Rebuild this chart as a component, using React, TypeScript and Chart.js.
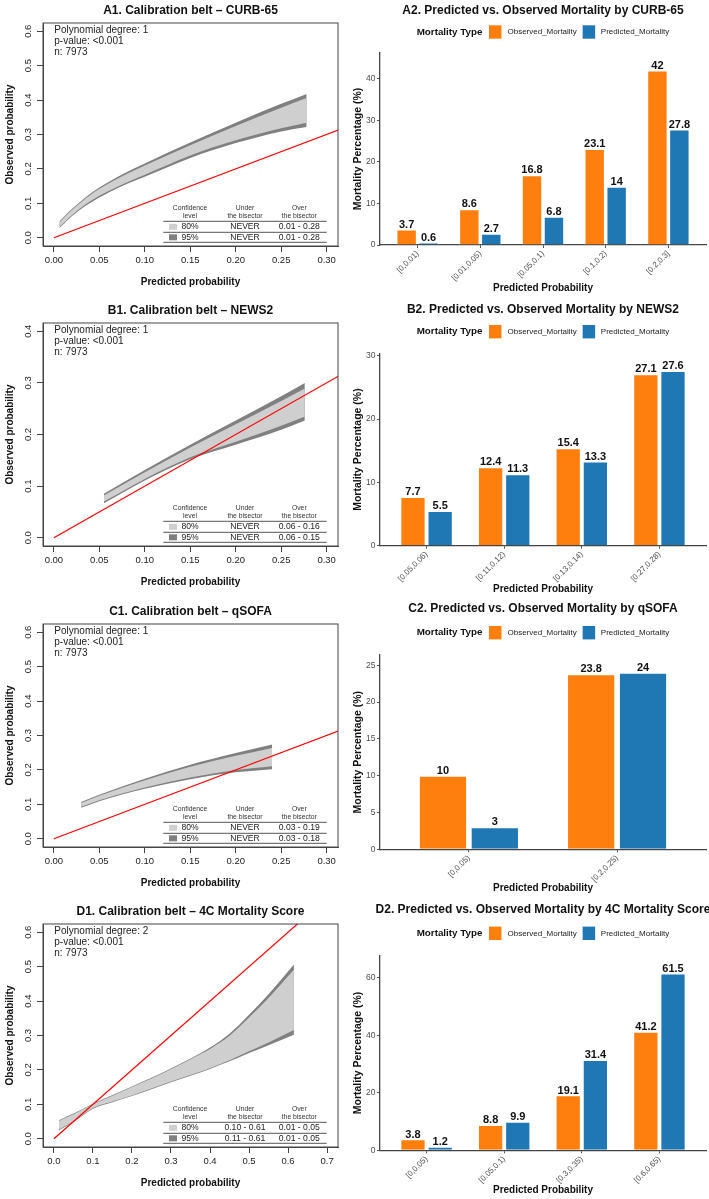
import React, { useEffect, useRef } from "react";
import { Chart, registerables } from "chart.js";

Chart.register(...registerables);

const FONT = '"Liberation Sans", Arial, Helvetica, sans-serif';
const ORANGE = "#ff7f0e";
const BLUE = "#1f77b4";
const LIGHT = "#cfcfcf";
const DARK = "#808080";
const AXIS = "#444444";

// ---------------- Calibration belts ----------------
const a1X = [0.006, 0.012, 0.02, 0.035, 0.05, 0.075, 0.1, 0.15, 0.2, 0.25, 0.278];
const a1Upper95 = [0.047, 0.064, 0.084, 0.118, 0.146, 0.184, 0.216, 0.277, 0.334, 0.389, 0.418];
const a1Upper80 = [0.044, 0.061, 0.081, 0.114, 0.142, 0.179, 0.21, 0.269, 0.325, 0.378, 0.406];
const a1Lower80 = [0.031, 0.046, 0.066, 0.097, 0.122, 0.155, 0.183, 0.239, 0.283, 0.318, 0.334];
const a1Lower95 = [0.028, 0.043, 0.063, 0.093, 0.117, 0.15, 0.177, 0.232, 0.275, 0.309, 0.322];

const b1X = [0.055, 0.1, 0.15, 0.2, 0.25, 0.276];
const b1Upper95 = [0.085, 0.131, 0.18, 0.227, 0.274, 0.3];
const b1Upper80 = [0.082, 0.127, 0.175, 0.22, 0.265, 0.289];
const b1Lower80 = [0.07, 0.114, 0.156, 0.186, 0.217, 0.235];
const b1Lower95 = [0.067, 0.111, 0.152, 0.18, 0.209, 0.227];

const c1X = [0.03, 0.05, 0.1, 0.15, 0.2, 0.24];
const c1Upper95 = [0.107, 0.128, 0.174, 0.215, 0.249, 0.274];
const c1Upper80 = [0.104, 0.125, 0.17, 0.209, 0.241, 0.264];
const c1Lower80 = [0.093, 0.112, 0.149, 0.178, 0.2, 0.211];
const c1Lower95 = [0.09, 0.109, 0.145, 0.173, 0.193, 0.202];

const d1X = [0.013, 0.05, 0.1, 0.15, 0.2, 0.25, 0.3, 0.35, 0.4, 0.45, 0.5, 0.55, 0.615];
const d1Upper95 = [0.054, 0.073, 0.102, 0.127, 0.152, 0.177, 0.204, 0.233, 0.265, 0.305, 0.36, 0.42, 0.506];
const d1Upper80 = [0.052, 0.071, 0.1, 0.125, 0.15, 0.175, 0.202, 0.231, 0.261, 0.299, 0.352, 0.409, 0.491];
const d1Lower80 = [0.027, 0.05, 0.089, 0.108, 0.126, 0.146, 0.166, 0.185, 0.205, 0.228, 0.254, 0.28, 0.316];
const d1Lower95 = [0.025, 0.048, 0.087, 0.106, 0.124, 0.144, 0.164, 0.183, 0.203, 0.225, 0.249, 0.272, 0.302];

const bisectorX = [0, 1];
const bisectorY = [0, 1];

const calibXTicks = [0, 0.05, 0.1, 0.15, 0.2, 0.25, 0.3];
const d1XTicks = [0, 0.1, 0.2, 0.3, 0.4, 0.5, 0.6, 0.7];
const yTicks06 = [0, 0.1, 0.2, 0.3, 0.4, 0.5, 0.6];
const yTicks04 = [0, 0.1, 0.2, 0.3, 0.4];

const a1Table = [["80%", "NEVER", "0.01 - 0.28"], ["95%", "NEVER", "0.01 - 0.28"]];
const b1Table = [["80%", "NEVER", "0.06 - 0.16"], ["95%", "NEVER", "0.06 - 0.15"]];
const c1Table = [["80%", "NEVER", "0.03 - 0.19"], ["95%", "NEVER", "0.03 - 0.18"]];
const d1Table = [["80%", "0.10 - 0.61", "0.01 - 0.05"], ["95%", "0.11 - 0.61", "0.01 - 0.05"]];

// ---------------- Bar charts ----------------
const a2Categories = ["[0,0.01)", "[0.01,0.05)", "[0.05,0.1)", "[0.1,0.2)", "[0.2,0.3]"];
const a2Observed = [3.7, 8.6, 16.8, 23.1, 42];
const a2Predicted = [0.6, 2.7, 6.8, 14, 27.8];
const a2YTicks = [0, 10, 20, 30, 40];

const b2Categories = ["[0.05,0.06)", "[0.11,0.12)", "[0.13,0.14)", "[0.27,0.28)"];
const b2Observed = [7.7, 12.4, 15.4, 27.1];
const b2Predicted = [5.5, 11.3, 13.3, 27.6];
const b2YTicks = [0, 10, 20, 30];

const c2Categories = ["[0,0.05)", "[0.2,0.25)"];
const c2Observed = [10, 23.8];
const c2Predicted = [3, 24];
const c2YTicks = [0, 5, 10, 15, 20, 25];

const d2Categories = ["[0,0.05)", "[0.05,0.1)", "[0.3,0.35)", "[0.6,0.65)"];
const d2Observed = [3.8, 8.8, 19.1, 41.2];
const d2Predicted = [1.2, 9.9, 31.4, 61.5];
const d2YTicks = [0, 20, 40, 60];

type BeltSpec = {
  top: number;
  title: string;
  degree: number;
  xMin: number;
  xMax: number;
  yMin: number;
  yMax: number;
  xTicks: number[];
  yTicks: number[];
  xDec: number;
  bx: number[];
  u95: number[];
  u80: number[];
  l80: number[];
  l95: number[];
  table: string[][];
};

const beltSpecs: BeltSpec[] = [
  { top: 0, title: "A1. Calibration belt \u2013 CURB-65", degree: 1, xMin: -0.012, xMax: 0.3125, yMin: -0.024, yMax: 0.624, xTicks: calibXTicks, yTicks: yTicks06, xDec: 2, bx: a1X, u95: a1Upper95, u80: a1Upper80, l80: a1Lower80, l95: a1Lower95, table: a1Table },
  { top: 300, title: "B1. Calibration belt \u2013 NEWS2", degree: 1, xMin: -0.012, xMax: 0.3125, yMin: -0.016, yMax: 0.416, xTicks: calibXTicks, yTicks: yTicks04, xDec: 2, bx: b1X, u95: b1Upper95, u80: b1Upper80, l80: b1Lower80, l95: b1Lower95, table: b1Table },
  { top: 601, title: "C1. Calibration belt \u2013 qSOFA", degree: 1, xMin: -0.012, xMax: 0.3125, yMin: -0.024, yMax: 0.624, xTicks: calibXTicks, yTicks: yTicks06, xDec: 2, bx: c1X, u95: c1Upper95, u80: c1Upper80, l80: c1Lower80, l95: c1Lower95, table: c1Table },
  { top: 901, title: "D1. Calibration belt \u2013 4C Mortality Score", degree: 2, xMin: -0.028, xMax: 0.728, yMin: -0.024, yMax: 0.624, xTicks: d1XTicks, yTicks: yTicks06, xDec: 1, bx: d1X, u95: d1Upper95, u80: d1Upper80, l80: d1Lower80, l95: d1Lower95, table: d1Table },
];

type BarSpec = {
  top: number;
  height: number;
  padTop: number;
  xAxisH: number;
  legendY: number;
  title: string;
  cats: string[];
  obs: number[];
  pred: number[];
  yTicks: number[];
};

const barSpecs: BarSpec[] = [
  { top: 0, height: 295, padTop: 53, xAxisH: 50, legendY: 32, title: "A2. Predicted vs. Observed Mortality by CURB-65", cats: a2Categories, obs: a2Observed, pred: a2Predicted, yTicks: a2YTicks },
  { top: 299, height: 297, padTop: 54.5, xAxisH: 50.3, legendY: 32.7, title: "B2. Predicted vs. Observed Mortality by NEWS2", cats: b2Categories, obs: b2Observed, pred: b2Predicted, yTicks: b2YTicks },
  { top: 598, height: 297, padTop: 57, xAxisH: 45.7, legendY: 34.7, title: "C2. Predicted vs. Observed Mortality by qSOFA", cats: c2Categories, obs: c2Observed, pred: c2Predicted, yTicks: c2YTicks },
  { top: 899, height: 298, padTop: 56.7, xAxisH: 46.7, legendY: 34.3, title: "D2. Predicted vs. Observed Mortality by 4C Mortality Score", cats: d2Categories, obs: d2Observed, pred: d2Predicted, yTicks: d2YTicks },
];

function pts(xs: number[], ys: number[]) {
  return xs.map((x, i) => ({ x, y: ys[i] }));
}

function beltDecor(s: BeltSpec) {
  return {
    id: "beltDecor",
    afterDraw(chart: any) {
      const { ctx, chartArea: ca } = chart;
      ctx.save();
      ctx.strokeStyle = AXIS;
      ctx.lineWidth = 1;
      ctx.strokeRect(ca.left, ca.top, ca.right - ca.left, ca.bottom - ca.top);
      // title
      ctx.fillStyle = "#111";
      ctx.textBaseline = "middle";
      ctx.textAlign = "center";
      ctx.font = `bold 12px ${FONT}`;
      ctx.fillText(s.title, (ca.left + ca.right) / 2, ca.top - 12);
      // stats
      ctx.font = `10px ${FONT}`;
      ctx.textAlign = "left";
      ctx.fillStyle = "#222";
      [`Polynomial degree: ${s.degree}`, "p-value: <0.001", "n: 7973"].forEach((t, i) =>
        ctx.fillText(t, ca.left + 11.3, ca.top + 7.5 + i * 10.9)
      );
      // legend table
      const tl = 163.3;
      const tr = 326.7;
      const cols = [190, 245, 299.3];
      const b = ca.bottom;
      ctx.fillStyle = "#333";
      ctx.textAlign = "center";
      ctx.font = `6.8px ${FONT}`;
      const h1 = ["Confidence", "Under", "Over"];
      const h2 = ["level", "the bisector", "the bisector"];
      cols.forEach((cx, i) => {
        ctx.fillText(h1[i], cx, b - 37.4);
        ctx.fillText(h2[i], cx, b - 29.7);
      });
      ctx.strokeStyle = "#555";
      ctx.lineWidth = 1;
      [24.7, 13.7, 3.7].forEach((d) => {
        ctx.beginPath();
        ctx.moveTo(tl, b - d);
        ctx.lineTo(tr, b - d);
        ctx.stroke();
      });
      ctx.font = `8.6px ${FONT}`;
      ctx.fillStyle = "#222";
      const rowY = [b - 19.2, b - 8.7];
      s.table.forEach((row, r) => {
        ctx.fillStyle = r === 0 ? LIGHT : DARK;
        ctx.fillRect(169, rowY[r] - 3, 8, 6);
        ctx.fillStyle = "#222";
        row.forEach((t, c) => ctx.fillText(t, cols[c], rowY[r]));
      });
      ctx.restore();
    },
  };
}

function makeBelt(canvas: HTMLCanvasElement, s: BeltSpec) {
  const beltSet = (ys: number[], color: string, fill: any, order: number) => ({
    data: pts(s.bx, ys),
    showLine: true,
    pointRadius: 0,
    borderColor: "rgba(0,0,0,0)",
    borderWidth: 1,
    backgroundColor: color,
    fill,
    order,
    cubicInterpolationMode: "monotone",
  });
  const tickFont = { family: FONT, size: 9.5 };
  const titleFont = { family: FONT, size: 10, weight: "bold" };
  return new Chart(canvas, {
    type: "scatter",
    data: {
      datasets: [
        {
          data: pts(bisectorX, bisectorY),
          showLine: true,
          pointRadius: 0,
          borderColor: "#ff0000",
          borderWidth: 1.2,
          fill: false,
          order: 0,
        },
        beltSet(s.u80, LIGHT, "+1", 1),
        beltSet(s.l80, LIGHT, false, 1),
        beltSet(s.u95, DARK, "+1", 2),
        beltSet(s.l95, DARK, false, 2),
      ] as any,
    },
    options: {
      responsive: false,
      animation: false,
      events: [],
      layout: { padding: { left: 0, top: 23, right: 12, bottom: 0 } },
      plugins: { legend: { display: false }, tooltip: { enabled: false }, title: { display: false } },
      scales: {
        x: {
          type: "linear",
          min: s.xMin,
          max: s.xMax,
          afterBuildTicks: (sc: any) => {
            sc.ticks = s.xTicks.map((v) => ({ value: v }));
          },
          afterFit: (sc: any) => {
            sc.height = 54;
          },
          ticks: {
            autoSkip: false,
            minRotation: 0,
            maxRotation: 0,
            padding: 3,
            color: "#222",
            font: tickFont,
            callback: (v: any) => Number(v).toFixed(s.xDec),
          },
          grid: { drawOnChartArea: false, drawTicks: true, tickLength: 6, color: AXIS, lineWidth: 1 },
          border: { display: true, color: AXIS, width: 1 },
          title: { display: true, text: "Predicted probability", color: "#111", font: titleFont, padding: { top: 0, bottom: 12 } },
        },
        y: {
          type: "linear",
          min: s.yMin,
          max: s.yMax,
          afterBuildTicks: (sc: any) => {
            sc.ticks = s.yTicks.map((v) => ({ value: v }));
          },
          afterFit: (sc: any) => {
            sc.width = 43;
          },
          ticks: {
            autoSkip: false,
            minRotation: 90,
            maxRotation: 90,
            crossAlign: "center",
            padding: 2.4,
            color: "#222",
            font: tickFont,
            callback: (v: any) => Number(v).toFixed(1),
          },
          grid: { drawOnChartArea: false, drawTicks: true, tickLength: 6, color: AXIS, lineWidth: 1 },
          border: { display: true, color: AXIS, width: 1 },
          title: { display: true, text: "Observed probability", color: "#111", font: titleFont, padding: { top: 4, bottom: 0 } },
        },
      },
    } as any,
    plugins: [beltDecor(s)],
  });
}

function barDecor(s: BarSpec) {
  return {
    id: "barDecor",
    afterDraw(chart: any) {
      const { ctx, chartArea: ca } = chart;
      ctx.save();
      const cx = (ca.left + ca.right) / 2;
      ctx.fillStyle = "#111";
      ctx.textBaseline = "middle";
      ctx.textAlign = "center";
      ctx.font = `bold 12px ${FONT}`;
      ctx.fillText(s.title, cx, 11);
      // legend
      const titleF = `bold 9.8px ${FONT}`;
      const itemF = `8px ${FONT}`;
      ctx.font = titleF;
      const tw = ctx.measureText("Mortality Type").width;
      ctx.font = itemF;
      const w1 = ctx.measureText("Observed_Mortality").width;
      const w2 = ctx.measureText("Predicted_Mortality").width;
      const sw = 12.5;
      const total = tw + 6.6 + sw + 6 + w1 + 5.8 + sw + 5.7 + w2;
      let x = cx - total / 2;
      const ly = s.legendY;
      ctx.textAlign = "left";
      ctx.font = titleF;
      ctx.fillStyle = "#111";
      ctx.fillText("Mortality Type", x, ly);
      x += tw + 6.6;
      ctx.fillStyle = ORANGE;
      ctx.fillRect(x, ly - 6.7, sw, 13.4);
      x += sw + 6;
      ctx.font = itemF;
      ctx.fillStyle = "#222";
      ctx.fillText("Observed_Mortality", x, ly);
      x += w1 + 5.8;
      ctx.fillStyle = BLUE;
      ctx.fillRect(x, ly - 6.7, sw, 13.4);
      x += sw + 5.7;
      ctx.fillStyle = "#222";
      ctx.fillText("Predicted_Mortality", x, ly);
      // value labels
      ctx.font = `bold 11px ${FONT}`;
      ctx.fillStyle = "#111";
      ctx.textAlign = "center";
      ctx.textBaseline = "alphabetic";
      chart.data.datasets.forEach((ds: any, di: number) => {
        const meta = chart.getDatasetMeta(di);
        meta.data.forEach((el: any, i: number) => {
          ctx.fillText(String(ds.data[i].y), el.x, el.y - 1.8);
        });
      });
      ctx.restore();
    },
  };
}

function makeBar(canvas: HTMLCanvasElement, s: BarSpec) {
  const n = s.cats.length;
  const yMax = Math.max(...s.obs, ...s.pred) * 1.1;
  const barSet = (label: string, vals: number[], color: string) => ({
    label,
    data: vals.map((v, i) => ({ x: i, y: v })),
    backgroundColor: color,
    borderColor: "rgba(255,255,255,0.75)",
    borderWidth: 1,
    borderSkipped: "start",
    categoryPercentage: 0.7,
    barPercentage: 0.93,
  });
  return new Chart(canvas, {
    type: "bar",
    data: {
      datasets: [barSet("Observed_Mortality", s.obs, ORANGE), barSet("Predicted_Mortality", s.pred, BLUE)] as any,
    },
    options: {
      responsive: false,
      animation: false,
      events: [],
      layout: { padding: { left: 0, top: s.padTop, right: 3, bottom: 0 } },
      plugins: { legend: { display: false }, tooltip: { enabled: false }, title: { display: false } },
      scales: {
        x: {
          type: "linear",
          min: -0.6,
          max: n - 1 + 0.6,
          offset: false,
          afterBuildTicks: (sc: any) => {
            sc.ticks = s.cats.map((_, i) => ({ value: i }));
          },
          afterFit: (sc: any) => {
            sc.height = s.xAxisH;
          },
          ticks: {
            autoSkip: false,
            minRotation: 45,
            maxRotation: 45,
            padding: 1,
            color: "#4d4d4d",
            font: { family: FONT, size: 8 },
            callback: (v: any) => s.cats[Math.round(Number(v))] ?? "",
          },
          grid: { offset: false, drawOnChartArea: false, drawTicks: true, tickLength: 3, color: "#555", lineWidth: 1 },
          border: { display: true, color: AXIS, width: 1.3 },
          title: { display: true, text: "Predicted Probability", color: "#111", font: { family: FONT, size: 10, weight: "bold" }, padding: { top: 0, bottom: 1 } },
        },
        y: {
          type: "linear",
          min: 0,
          max: yMax,
          afterBuildTicks: (sc: any) => {
            sc.ticks = s.yTicks.map((v) => ({ value: v }));
          },
          afterFit: (sc: any) => {
            sc.width = 30;
          },
          ticks: {
            autoSkip: false,
            padding: 1.5,
            color: "#4d4d4d",
            font: { family: FONT, size: 8.5 },
            callback: (v: any) => String(v),
          },
          grid: { drawOnChartArea: false, drawTicks: true, tickLength: 3, color: "#555", lineWidth: 1 },
          border: { display: true, color: AXIS, width: 1.3 },
          title: { display: true, text: "Mortality Percentage (%)", color: "#111", font: { family: FONT, size: 10.5, weight: "bold" }, padding: { top: 2, bottom: 0 } },
        },
      },
    } as any,
    plugins: [barDecor(s)],
  });
}

function ChartBox(props: { left: number; top: number; width: number; height: number; make: (c: HTMLCanvasElement) => Chart }) {
  const ref = useRef<HTMLCanvasElement>(null);
  useEffect(() => {
    if (!ref.current) return;
    const chart = props.make(ref.current);
    return () => chart.destroy();
  }, []);
  return (
    <div style={{ position: "absolute", left: props.left, top: props.top, width: props.width, height: props.height }}>
      <canvas ref={ref} width={props.width} height={props.height} style={{ display: "block" }} />
    </div>
  );
}

export default function App() {
  return (
    <div style={{ position: "absolute", left: 0, top: 0, width: 709, height: 1199, overflow: "hidden", background: "#fff" }}>
      {beltSpecs.map((s, i) => (
        <ChartBox key={"b" + i} left={0} top={s.top} width={350} height={300} make={(c) => makeBelt(c, s)} />
      ))}
      {barSpecs.map((s, i) => (
        <ChartBox key={"r" + i} left={350} top={s.top} width={359} height={s.height} make={(c) => makeBar(c, s)} />
      ))}
    </div>
  );
}
